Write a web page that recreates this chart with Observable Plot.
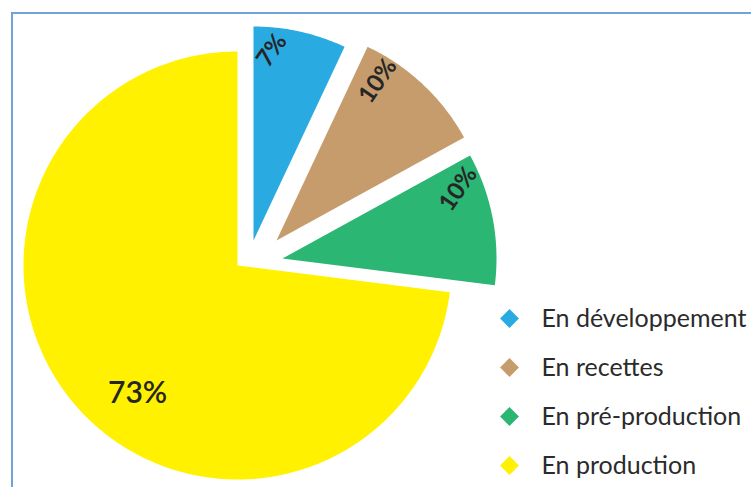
<!DOCTYPE html>
<html>
<head>
<meta charset="utf-8">
<script src="https://cdn.jsdelivr.net/npm/d3@7"></script>
<script src="https://cdn.jsdelivr.net/npm/@observablehq/plot@0.6"></script>
<style>
  html, body { margin: 0; padding: 0; background: #fff; overflow: hidden; }
  #wrap { position: relative; width: 751px; height: 487px; overflow: hidden; }
  #frame { position: absolute; left: 11px; top: 12px; width: 800px; height: 600px; border: 2px solid #6fa4da; box-sizing: border-box; }
  #chart { position: absolute; left: 0; top: 0; }
</style>
</head>
<body>
<div id="wrap"><div id="frame"></div><div id="chart"></div></div>
<script>
// ---- data ----
const categories = ["En développement", "En recettes", "En pré-production", "En production"];
const values = [7, 10, 10, 73];
const labels = ["7%", "10%", "10%", "73%"];
const colors = ["#29abe2", "#c69c6d", "#2bb673", "#fff100"];

// ---- layout constants (pixels) ----
const W = 751, H = 487;
const cx = 237, cy = 265, R = 214;
const explode = [[16, -25], [39, -25], [45, -7], [0, 0]];
const labelFrac = [0.22, 0.2, 0.2, 0.46];
const labelR = [191, 189, 189, 162];
const labelRot = [-55, -55, -55, 0];
const labelSize = [24, 24, 24, 30];
const labelWeight = [700, 700, 700, 600];

const arcs = d3.pie().sort(null).value(d => d)(values);

const polyPts = [];
const labelPts = [];
arcs.forEach((a, i) => {
  const ox = cx + explode[i][0], oy = cy + explode[i][1];
  const cat = categories[i];
  polyPts.push({cat, x: ox, y: oy});
  const n = Math.max(8, Math.ceil((a.endAngle - a.startAngle) / (Math.PI / 360)));
  for (let k = 0; k <= n; k++) {
    const t = a.startAngle + (a.endAngle - a.startAngle) * k / n;
    polyPts.push({cat, x: ox + R * Math.sin(t), y: oy - R * Math.cos(t)});
  }
  polyPts.push({cat, x: ox, y: oy});
  const la = a.startAngle + (a.endAngle - a.startAngle) * labelFrac[i];
  labelPts.push({cat, label: labels[i], i,
    x: ox + labelR[i] * Math.sin(la), y: oy - labelR[i] * Math.cos(la)});
});

const legend = categories.map((c, i) => ({cat: c, i, x: 509, y: 318 + i * 49}));

const textMarks = labelPts.map(d => Plot.text([d], {
  x: "x", y: "y", text: "label", rotate: labelRot[d.i],
  fontSize: labelSize[d.i], fontWeight: labelWeight[d.i], fill: "#262626"
}));

const chart = Plot.plot({
  width: W, height: H, margin: 0,
  style: {fontFamily: "Lato, sans-serif", background: "transparent", overflow: "visible"},
  x: {domain: [0, W], range: [0, W], axis: null},
  y: {domain: [0, H], range: [0, H], axis: null},
  color: {domain: categories, range: colors},
  marks: [
    Plot.line(polyPts, {x: "x", y: "y", z: "cat", fill: "cat", stroke: "none", curve: "linear-closed"}),
    ...textMarks,
    Plot.dot(legend, {x: "x", y: "y", symbol: "diamond2", r: 8.5, fill: "cat", stroke: "none"}),
    Plot.text(legend, {x: d => d.x + 32, y: "y", text: "cat", textAnchor: "start", fontSize: 25, fill: "#2b2b2b"})
  ]
});
document.getElementById("chart").appendChild(chart);
</script>
</body>
</html>
